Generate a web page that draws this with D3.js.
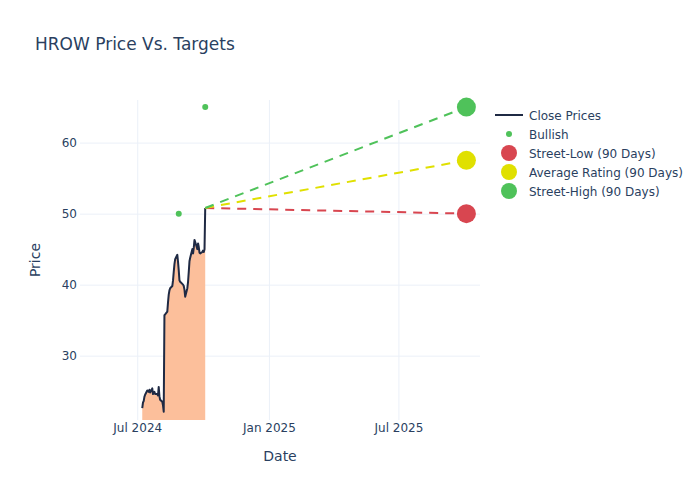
<!DOCTYPE html>
<html>
<head>
<meta charset="utf-8">
<script src="https://cdn.jsdelivr.net/npm/d3@7"></script>
<style>
  html, body { margin: 0; padding: 0; background: #fff; }
  svg { display: block; font-family: "DejaVu Sans", sans-serif; }
</style>
</head>
<body>
<svg id="chart" width="700" height="500"></svg>
<script>
// ---------- data ----------
const closeDates = [
  "2024-07-08","2024-07-09","2024-07-10","2024-07-11","2024-07-12",
  "2024-07-15","2024-07-16","2024-07-17","2024-07-18","2024-07-19",
  "2024-07-22","2024-07-23","2024-07-24","2024-07-25","2024-07-26",
  "2024-07-29","2024-07-30","2024-07-31","2024-08-01","2024-08-02",
  "2024-08-05","2024-08-06","2024-08-07","2024-08-08","2024-08-09",
  "2024-08-12","2024-08-13","2024-08-14","2024-08-15","2024-08-16",
  "2024-08-19","2024-08-20","2024-08-21","2024-08-22","2024-08-23",
  "2024-08-26","2024-08-27","2024-08-28","2024-08-29","2024-08-30",
  "2024-09-03","2024-09-04","2024-09-05","2024-09-06",
  "2024-09-09","2024-09-10","2024-09-11","2024-09-12","2024-09-13",
  "2024-09-16","2024-09-17","2024-09-18","2024-09-19","2024-09-20",
  "2024-09-23","2024-09-24","2024-09-25","2024-09-26","2024-09-27",
  "2024-09-30","2024-10-01","2024-10-02","2024-10-03","2024-10-04"
];
const closePrices = [
  22.6, 23.4, 23.6, 24.2, 24.5,
  25.1, 25.0, 24.9, 25.2, 24.8,
  25.4, 24.6, 24.7, 24.9, 24.6,
  24.6, 24.4, 25.6, 24.3, 23.8,
  23.5, 23.0, 22.1, 35.7, 35.8,
  36.2, 37.5, 38.6, 39.2, 39.5,
  39.8, 40.6, 41.8, 42.9, 43.6,
  44.2, 43.2, 42.0, 40.6, 40.4,
  40.0, 39.8, 39.3, 38.3,
  39.5, 40.4, 41.8, 43.3, 43.8,
  45.0, 44.4, 45.2, 46.3, 46.0,
  45.0, 45.8, 45.3, 44.5, 44.4,
  44.6, 44.8, 44.6, 45.0, 50.8
];
const bullishDates = ["2024-08-28", "2024-10-04"];
const bullishTargets = [50, 65];

const targetStartDate = "2024-10-04";
const targetEndDate = "2025-10-04";
const targetNames = ["Street-Low (90 Days)", "Average Rating (90 Days)", "Street-High (90 Days)"];
const targetValues = [50, 57.5, 65];
const targetColors = ["#d84650", "#e0e000", "#4fc25a"];

const yTicks = [30, 40, 50, 60];
const xTicks = ["2024-07-01", "2025-01-01", "2025-07-01"];
const xTickLabels = ["Jul 2024", "Jan 2025", "Jul 2025"];

// ---------- layout ----------
const svg = d3.select("#chart");
const W = 700, H = 500;
const m = { l: 80, r: 220, t: 100, b: 80 };
const parse = d3.utcParse("%Y-%m-%d");
const textColor = "#2a3f5f";
const gridColor = "#ebf0f8";

const x = d3.scaleUtc()
  .domain([parse("2024-04-12"), parse("2025-10-23")])
  .range([m.l, W - m.r]);
const y = d3.scaleLinear()
  .domain([20.94, 66.0])
  .range([H - m.b, m.t]);

const closeData = closeDates.map((d, i) => ({ date: parse(d), v: closePrices[i] }));

svg.append("defs").append("clipPath").attr("id", "plotclip")
  .append("rect").attr("x", m.l).attr("y", m.t)
  .attr("width", W - m.r - m.l).attr("height", H - m.b - m.t);

// grid
const xAxis = d3.axisBottom(x)
  .tickValues(xTicks.map(parse))
  .tickFormat((d, i) => xTickLabels[i])
  .tickSize(-(H - m.t - m.b)).tickPadding(3);
const gx = svg.append("g").attr("transform", `translate(0,${H - m.b})`).call(xAxis);
gx.select(".domain").remove();
gx.selectAll(".tick line").attr("stroke", gridColor).attr("stroke-width", 1);
gx.selectAll(".tick text").attr("fill", textColor).attr("font-size", 12)
  .attr("font-family", "DejaVu Sans, sans-serif").attr("dy", "0.71em");

const yAxis = d3.axisLeft(y).tickValues(yTicks)
  .tickSize(-(W - m.l - m.r)).tickPadding(3);
const gy = svg.append("g").attr("transform", `translate(${m.l},0)`).call(yAxis);
gy.select(".domain").remove();
gy.selectAll(".tick line").attr("stroke", gridColor).attr("stroke-width", 1);
gy.selectAll(".tick text").attr("fill", textColor).attr("font-size", 12)
  .attr("font-family", "DejaVu Sans, sans-serif");

const plot = svg.append("g").attr("clip-path", "url(#plotclip)");

// area fill
plot.append("path").datum(closeData)
  .attr("fill", "#fcbf9b")
  .attr("d", d3.area().x(d => x(d.date)).y0(y(0)).y1(d => y(d.v)));

// close line
plot.append("path").datum(closeData)
  .attr("fill", "none").attr("stroke", "#1f2a44").attr("stroke-width", 2)
  .attr("stroke-linejoin", "round")
  .attr("d", d3.line().x(d => x(d.date)).y(d => y(d.v)));

// dashed target lines
const lastClose = closePrices[closePrices.length - 1];
targetValues.forEach((v, i) => {
  plot.append("path")
    .datum([{ date: parse(targetStartDate), v: lastClose }, { date: parse(targetEndDate), v: v }])
    .attr("fill", "none").attr("stroke", targetColors[i]).attr("stroke-width", 2)
    .attr("stroke-dasharray", "9,7")
    .attr("d", d3.line().x(d => x(d.date)).y(d => y(d.v)));
});

// bullish points
plot.selectAll("circle.bull").data(bullishDates.map((d, i) => ({ date: parse(d), v: bullishTargets[i] })))
  .enter().append("circle")
  .attr("cx", d => x(d.date)).attr("cy", d => y(d.v)).attr("r", 3)
  .attr("fill", "#4fc25a");

// target markers
targetValues.forEach((v, i) => {
  svg.append("circle")
    .attr("cx", x(parse(targetEndDate))).attr("cy", y(v)).attr("r", 9.5)
    .attr("fill", targetColors[i]);
});

// title and axis titles
svg.append("text").attr("x", 35).attr("y", 50)
  .attr("font-size", 17).attr("fill", textColor).text("HROW Price Vs. Targets");
svg.append("text").attr("x", (m.l + W - m.r) / 2).attr("y", 461)
  .attr("text-anchor", "middle").attr("font-size", 14).attr("fill", textColor).text("Date");
svg.append("text")
  .attr("transform", `translate(40,${(m.t + H - m.b) / 2}) rotate(-90)`)
  .attr("text-anchor", "middle").attr("font-size", 14).attr("fill", textColor).text("Price");

// legend
const leg = svg.append("g");
const legNames = ["Close Prices", "Bullish"].concat(targetNames);
legNames.forEach((name, i) => {
  const cy = 115 + i * 19;
  if (i === 0) {
    leg.append("line").attr("x1", 495).attr("x2", 523).attr("y1", cy).attr("y2", cy)
      .attr("stroke", "#1f2a44").attr("stroke-width", 2);
  } else if (i === 1) {
    leg.append("circle").attr("cx", 509).attr("cy", cy).attr("r", 3).attr("fill", "#4fc25a");
  } else {
    leg.append("circle").attr("cx", 509).attr("cy", cy).attr("r", 8).attr("fill", targetColors[i - 2]);
  }
  leg.append("text").attr("x", 529).attr("y", cy + 4.5)
    .attr("font-size", 12).attr("fill", textColor).text(name);
});
</script>
</body>
</html>
